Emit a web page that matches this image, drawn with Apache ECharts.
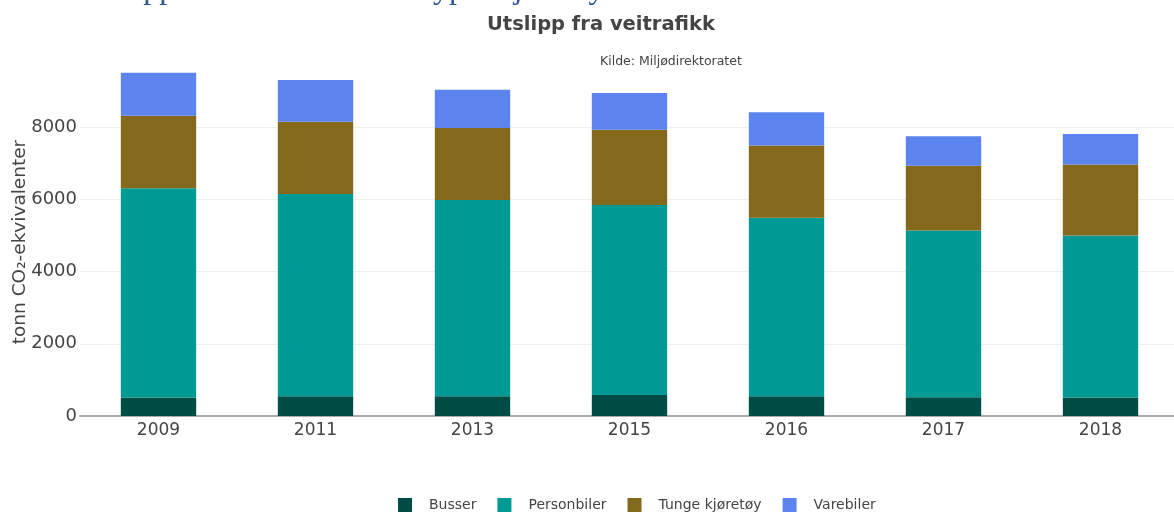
<!DOCTYPE html>
<html>
<head>
<meta charset="utf-8">
<script src="https://cdn.jsdelivr.net/npm/echarts@6/dist/echarts.min.js"></script>
<style>
    html, body { margin: 0; padding: 0; background: #fff; }
    #main { width: 1174px; height: 513px; }
</style>
</head>
<body>
<div id="main"></div>
<script>
// data (tonn CO2-ekvivalenter)
var years = ['2009', '2011', '2013', '2015', '2016', '2017', '2018'];
var busser = [510, 550, 550, 580, 550, 520, 510];
var personbiler = [5800, 5600, 5430, 5265, 4940, 4620, 4490];
var tungeKjoretoy = [2010, 2000, 2000, 2085, 2000, 1795, 1970];
var varebiler = [1190, 1155, 1060, 1015, 925, 815, 845];

var myChart = echarts.init(document.getElementById('main'));

function bar(name, data, color) {
    return {
        name: name,
        type: 'bar',
        stack: 'total',
        barWidth: '48%',
        data: data,
        itemStyle: { color: color }
    };
}

var option = {
    animation: false,
    textStyle: { fontFamily: 'DejaVu Sans' },
    title: [
        {
            text: 'Utslipp fra veitrafikk',
            left: 482,
            top: 10,
            textStyle: { fontSize: 19.5, fontWeight: 'bold', color: '#444', fontFamily: 'DejaVu Sans' }
        },
        {
            text: 'Kilde: Miljødirektoratet',
            left: 595,
            top: 50,
            textStyle: { fontSize: 12.5, fontWeight: 'normal', color: '#444', fontFamily: 'DejaVu Sans' }
        }
    ],
    graphic: [
        // cut-off page heading above the chart, only the descenders show
        {
            type: 'text',
            left: 81,
            top: -26,
            style: {
                text: 'Utslipp fra veitrafikk etter typer kjøretøy',
                font: '32px "Liberation Serif"',
                fill: '#2f5597'
            }
        },
        // y axis title
        {
            type: 'text',
            x: 20,
            y: 242,
            rotation: Math.PI / 2,
            style: {
                text: 'tonn CO₂-ekvivalenter',
                font: '18.5px "DejaVu Sans"',
                fill: '#444',
                align: 'center',
                verticalAlign: 'middle'
            }
        }
    ],
    legend: {
        bottom: 1,
        left: 398,
        padding: 0,
        itemWidth: 14,
        itemHeight: 14,
        itemGap: 21,
        icon: 'rect',
        textStyle: { fontSize: 14, color: '#444', padding: [0, 0, 0, 12] },
        data: ['Busser', 'Personbiler', 'Tunge kjøretøy', 'Varebiler']
    },
    grid: {
        left: 80,
        right: -5,
        top: 55,
        bottom: 97,
        containLabel: false,
        outerBoundsMode: 'none'
    },
    xAxis: {
        type: 'category',
        data: years,
        axisLine: { lineStyle: { color: '#aaa', width: 2 } },
        axisTick: { show: false },
        axisLabel: { fontSize: 17, color: '#444', margin: 6 }
    },
    yAxis: {
        type: 'value',
        min: 0,
        max: 10000,
        interval: 2000,
        axisLine: { show: false },
        axisTick: { show: false },
        axisLabel: {
            fontSize: 18,
            color: '#444',
            margin: 3,
            showMaxLabel: false,
            formatter: function (v) { return String(v); }
        },
        splitLine: { showMaxLine: false, lineStyle: { color: '#eee' } }
    },
    series: [
        bar('Busser', busser, '#004d45'),
        bar('Personbiler', personbiler, '#009a95'),
        bar('Tunge kjøretøy', tungeKjoretoy, '#84691d'),
        bar('Varebiler', varebiler, '#5b84ef')
    ]
};

myChart.setOption(option, true);
</script>
</body>
</html>
